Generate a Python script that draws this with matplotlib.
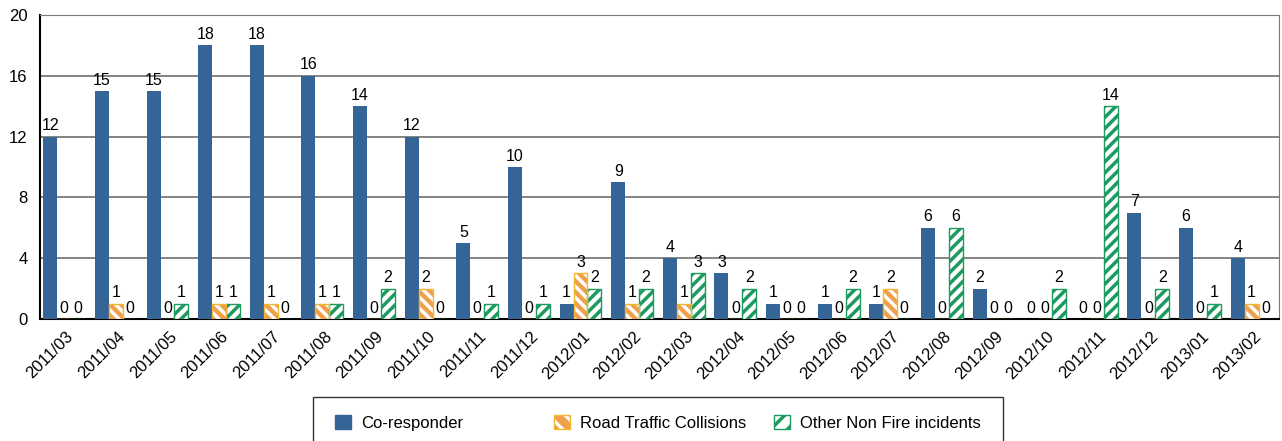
import numpy as np
import matplotlib
matplotlib.use('Agg')
import matplotlib.pyplot as plt
from matplotlib.patches import Rectangle, Patch

plt.rcParams['font.family'] = ['Liberation Sans', 'DejaVu Sans']
plt.rcParams['hatch.linewidth'] = 2.5

months = ['2011/03', '2011/04', '2011/05', '2011/06', '2011/07', '2011/08',
          '2011/09', '2011/10', '2011/11', '2011/12', '2012/01', '2012/02',
          '2012/03', '2012/04', '2012/05', '2012/06', '2012/07', '2012/08',
          '2012/09', '2012/10', '2012/11', '2012/12', '2013/01', '2013/02']
co_responder = [12, 15, 15, 18, 18, 16, 14, 12, 5, 10, 1, 9,
                4, 3, 1, 1, 1, 6, 2, 0, 0, 7, 6, 4]
road_traffic = [0, 1, 0, 1, 1, 1, 0, 2, 0, 0, 3, 1,
                1, 0, 0, 0, 2, 0, 0, 0, 0, 0, 0, 1]
other_non_fire = [0, 0, 1, 1, 0, 1, 2, 0, 1, 1, 2, 2,
                  3, 2, 0, 2, 0, 6, 0, 2, 14, 2, 1, 0]
series_names = ['Co-responder', 'Road Traffic Collisions', 'Other Non Fire incidents']

blue = '#356497'
orange = '#f0a04b'
orange_edge = '#f3b630'
green = '#1d9a5f'

fig = plt.figure(figsize=(12.82, 4.41), dpi=100)
ax = fig.add_axes([40 / 1282, 1 - 319 / 441, 1239 / 1282, 304 / 441])

x = np.arange(len(months))
w = 0.27
off = -0.03

b1 = ax.bar(x - w + off, co_responder, w, color=blue, zorder=3)
# orange: filled with white stripes, then coloured outline on top
b2 = ax.bar(x + off, road_traffic, w, color=orange, edgecolor='white',
            hatch='\\\\\\', linewidth=0, zorder=3)
ax.bar(x + off, road_traffic, w, fill=False, edgecolor=orange_edge,
       linewidth=1, zorder=4)
b3 = ax.bar(x + w + off, other_non_fire, w, color='white', edgecolor=green,
            hatch='///', linewidth=1, zorder=3)

for bars, vals in [(b1, co_responder), (b2, road_traffic), (b3, other_non_fire)]:
    for rect, v in zip(bars, vals):
        ax.annotate(str(v), (rect.get_x() + rect.get_width() / 2, v),
                    xytext=(0, 2.5), textcoords='offset points',
                    ha='center', va='bottom', fontsize=11.5, zorder=5)

ax.set_ylim(0, 20)
ax.set_yticks([0, 4, 8, 12, 16, 20])
ax.set_xlim(-0.5, len(months) - 0.5)
ax.set_xticks(x)
ax.set_xticklabels(months, rotation=45, ha='right', rotation_mode='anchor')
ax.tick_params(axis='x', length=0, labelsize=12, pad=7)
ax.tick_params(axis='y', length=0, labelsize=12, pad=9)
ax.yaxis.grid(True, color='#7a7a7a', linewidth=1.3, zorder=0)
ax.set_axisbelow(True)
for side in ['top', 'right']:
    ax.spines[side].set_color('#7a7a7a')
for side in ['left', 'bottom']:
    ax.spines[side].set_color('black')
    ax.spines[side].set_linewidth(1.5)

# legend: Excel style, equal-width columns inside one box
handles = [Patch(facecolor=blue, edgecolor=blue),
           (Patch(facecolor=orange, edgecolor='white', hatch='\\\\', linewidth=0),
            Patch(fill=False, edgecolor=orange_edge, linewidth=1)),
           Patch(facecolor='white', edgecolor=green, hatch='//')]
col_x = [335, 554, 774]
for h, name, cx in zip(handles, series_names, col_x):
    fig.legend([h], [name], loc='center left',
               bbox_to_anchor=(cx / 1282, 1 - 423 / 441),
               fontsize=12, frameon=False, borderpad=0, borderaxespad=0,
               handlelength=0.95, handleheight=0.95, handletextpad=0.6)
fig.add_artist(Rectangle((313 / 1282, -0.05), (1003 - 313) / 1282,
                         0.05 + (441 - 397) / 441, transform=fig.transFigure,
                         fill=False, edgecolor='#333333', linewidth=1.0))

fig.savefig('out.png', dpi=100)
